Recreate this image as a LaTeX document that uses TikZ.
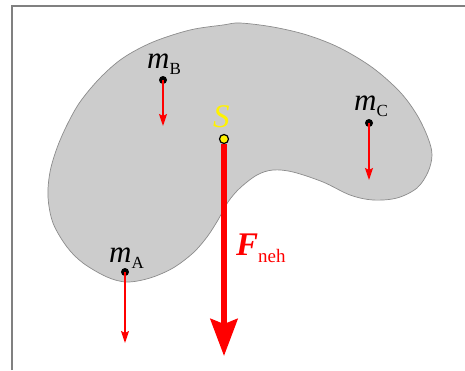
\documentclass[tikz,border=0pt]{standalone}
\usepackage{fontspec}
\setmainfont{Liberation Serif}
\usetikzlibrary{arrows.meta}
\definecolor{blobfill}{HTML}{CCCCCC}
\definecolor{blobline}{HTML}{8C8C8C}
\definecolor{framegray}{HTML}{808080}
\begin{document}
\begin{tikzpicture}[x=1pt,y=-1pt,
  mass/.style={circle,fill=black,inner sep=0pt,minimum size=8pt},
  cog/.style={circle,fill=yellow,draw=black,line width=1.2pt,inner sep=0pt,minimum size=9pt},
  weight/.style={red,line width=1.6pt,-{Stealth[length=12pt,width=8pt,inset=2pt]}},
  bigforce/.style={red,line width=6pt,-{Stealth[length=37pt,width=27pt,inset=5pt]}},
  lbl/.style={inner sep=0pt,anchor=base west}]
\useasboundingbox (0,0) rectangle (465,370);
% frame
\draw[framegray,line width=1.8pt] (12,370) -- (12,6) -- (465,6);
% body
\draw[blobline,fill=blobfill,line width=0.7pt] plot[smooth cycle,tension=0.55] coordinates {
 (240,23) (273,27) (307,35) (340,48) (373,68) (400,92) (417,115) (428,138)
 (432,155) (428,172) (417,188) (397,198) (373,200) (350,195) (323,182)
 (293,172) (273,170) (257,175) (240,188) (228,202) (218,220) (207,237)
 (193,253) (173,268) (150,278) (127,282) (107,277) (83,263) (67,247)
 (53,223) (48,197) (50,172) (57,148) (67,125) (80,102) (100,78) (123,58)
 (153,42) (190,30) (223,25)};
% points
\node[mass] (mB) at (163,80) {};
\node[mass] (mC) at (369,123) {};
\node[mass] (mA) at (125,272) {};
\coordinate (eB) at (163,126);
\coordinate (eC) at (369,180);
\coordinate (eA) at (125,343);
\coordinate (eS) at (224,356);
\draw[weight] (mB.center) -- (eB);
\draw[weight] (mC.center) -- (eC);
\draw[weight] (mA.center) -- (eA);
\draw[bigforce] (224,144) -- (eS);
\node[cog] (S) at (224,139) {};
% labels
\node[lbl] (lB) at (147,68) {\fontsize{31}{31}\selectfont\itshape m\raisebox{-6pt}{\upshape\fontsize{17}{17}\selectfont B}};
\node[lbl] (lC) at (354,110) {\fontsize{31}{31}\selectfont\itshape m\raisebox{-6pt}{\upshape\fontsize{17}{17}\selectfont C}};
\node[lbl] (lA) at (109,262) {\fontsize{31}{31}\selectfont\itshape m\raisebox{-6pt}{\upshape\fontsize{17}{17}\selectfont A}};
\node[lbl,text=yellow] (lS) at (213,127) {\fontsize{33}{33}\selectfont\itshape S};
\node[lbl,text=red] (lF) at (236,255) {\fontsize{33}{33}\selectfont\bfseries\itshape F\raisebox{-7pt}{\mdseries\upshape\fontsize{19}{19}\selectfont neh}};
\end{tikzpicture}
\end{document}
